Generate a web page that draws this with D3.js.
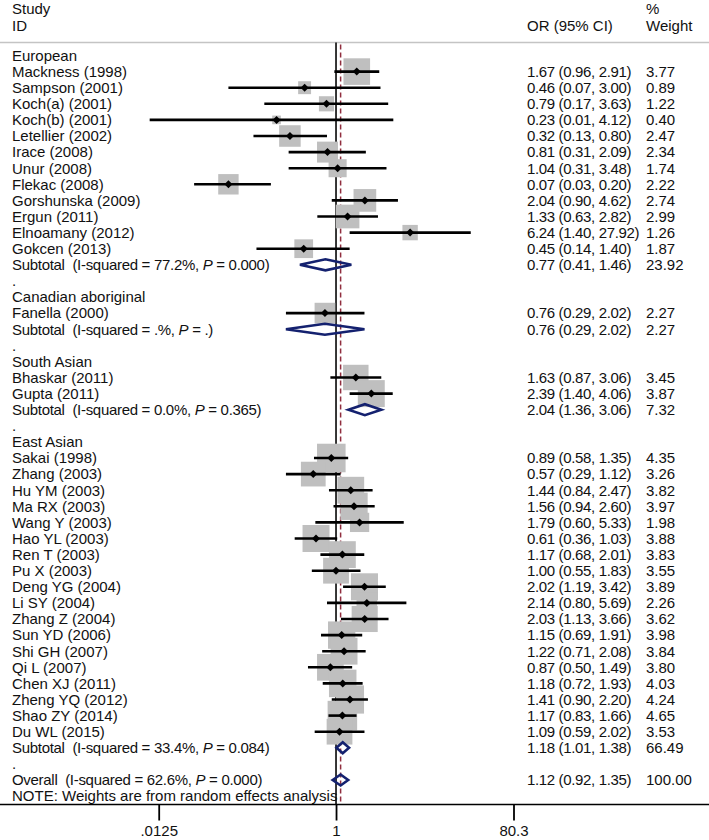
<!DOCTYPE html>
<html>
<head>
<meta charset="utf-8">
<script src="https://cdn.jsdelivr.net/npm/d3@7"></script>
<style>
  html, body { margin: 0; padding: 0; background: #fff; }
  svg { display: block; }
  text { font-family: "Liberation Sans", Arial, sans-serif; font-size: 15px; fill: #111; white-space: pre; }
</style>
</head>
<body>
<svg id="chart" width="709" height="840"></svg>
<script>
// ---------------- DATA ----------------
const groupNames = ["European", "Canadian aboriginal", "South Asian", "East Asian"];

const studyLabels = [
  "Mackness (1998)", "Sampson (2001)", "Koch(a) (2001)", "Koch(b) (2001)", "Letellier (2002)",
  "Irace (2008)", "Unur (2008)", "Flekac (2008)", "Gorshunska (2009)", "Ergun (2011)",
  "Elnoamany (2012)", "Gokcen (2013)",
  "Fanella (2000)",
  "Bhaskar (2011)", "Gupta (2011)",
  "Sakai (1998)", "Zhang (2003)", "Hu YM (2003)", "Ma RX (2003)", "Wang Y (2003)",
  "Hao YL (2003)", "Ren T (2003)", "Pu X (2003)", "Deng YG (2004)", "Li SY (2004)",
  "Zhang Z (2004)", "Sun YD (2006)", "Shi GH (2007)", "Qi L (2007)", "Chen XJ (2011)",
  "Zheng YQ (2012)", "Shao ZY (2014)", "Du WL (2015)"
];
const studyGroup = [
  0,0,0,0,0,0,0,0,0,0,0,0,
  1,
  2,2,
  3,3,3,3,3,3,3,3,3,3,3,3,3,3,3,3,3,3
];
const studyOR = [
  1.67, 0.46, 0.79, 0.23, 0.32, 0.81, 1.04, 0.07, 2.04, 1.33, 6.24, 0.45,
  0.76,
  1.63, 2.39,
  0.89, 0.57, 1.44, 1.56, 1.79, 0.61, 1.17, 1.00, 2.02, 2.14, 2.03, 1.15, 1.22, 0.87, 1.18, 1.41, 1.17, 1.09
];
const studyLower = [
  0.96, 0.07, 0.17, 0.01, 0.13, 0.31, 0.31, 0.03, 0.90, 0.63, 1.40, 0.14,
  0.29,
  0.87, 1.40,
  0.58, 0.29, 0.84, 0.94, 0.60, 0.36, 0.68, 0.55, 1.19, 0.80, 1.13, 0.69, 0.71, 0.50, 0.72, 0.90, 0.83, 0.59
];
const studyUpper = [
  2.91, 3.00, 3.63, 4.12, 0.80, 2.09, 3.48, 0.20, 4.62, 2.82, 27.92, 1.40,
  2.02,
  3.06, 4.06,
  1.35, 1.12, 2.47, 2.60, 5.33, 1.03, 2.01, 1.83, 3.42, 5.69, 3.66, 1.91, 2.08, 1.49, 1.93, 2.20, 1.66, 2.02
];
const studyWeight = [
  3.77, 0.89, 1.22, 0.40, 2.47, 2.34, 1.74, 2.22, 2.74, 2.99, 1.26, 1.87,
  2.27,
  3.45, 3.87,
  4.35, 3.26, 3.82, 3.97, 1.98, 3.88, 3.83, 3.55, 3.89, 2.26, 3.62, 3.98, 3.84, 3.80, 4.03, 4.24, 4.65, 3.53
];

// subtotals per group
const subI2 = ["77.2%", ".%", "0.0%", "33.4%"];
const subP = ["0.000", ".", "0.365", "0.084"];
const subOR = [0.77, 0.76, 2.04, 1.18];
const subLower = [0.41, 0.29, 1.36, 1.01];
const subUpper = [1.46, 2.02, 3.06, 1.38];
const subWeight = [23.92, 2.27, 7.32, 66.49];

// overall
const overallI2 = "62.6%";
const overallP = "0.000";
const overallOR = 1.12, overallLower = 0.92, overallUpper = 1.35, overallWeight = 100.00;

const tickValues = [0.0125, 1, 80.3];
const tickLabels = [".0125", "1", "80.3"];
const noteText = "NOTE: Weights are from random effects analysis";

// ---------------- LAYOUT ----------------
const svg = d3.select("#chart");
const W = 709, H = 840;

// build rows
const rows = [];
groupNames.forEach((g, gi) => {
  rows.push({type: "group", label: g});
  studyLabels.forEach((s, si) => {
    if (studyGroup[si] === gi) {
      rows.push({type: "study", label: s, or: studyOR[si], lo: studyLower[si], hi: studyUpper[si], w: studyWeight[si]});
    }
  });
  rows.push({type: "sub", label: "Subtotal", i2: subI2[gi], p: subP[gi], or: subOR[gi], lo: subLower[gi], hi: subUpper[gi], w: subWeight[gi]});
  rows.push({type: "dot", label: "."});
});
rows.push({type: "overall", label: "Overall", i2: overallI2, p: overallP, or: overallOR, lo: overallLower, hi: overallUpper, w: overallWeight});
rows.push({type: "note", label: noteText});

const y = d3.scaleLinear().domain([0, rows.length - 1]).range([55.5, 55.5 + (rows.length - 1) * 16.1]);
const x = d3.scaleLog().domain([0.0125, 80.3]).range([158.7, 513.5]);
const box = d3.scaleSqrt().domain([0, d3.max(studyWeight)]).range([0, 13.7 * Math.sqrt(d3.max(studyWeight))]);
const f2 = d3.format(".2f");

const headerLineY = 42.5;
const axisY = 804.5;
const baseOff = 5.3;
const labelX = 12, ciX = 527, wX = 646;

// header
svg.append("text").attr("x", labelX).attr("y", 13.8).text("Study");
svg.append("text").attr("x", labelX).attr("y", 30.5).text("ID");
svg.append("text").attr("x", ciX).attr("y", 30.5).text("OR (95% CI)");
svg.append("text").attr("x", wX).attr("y", 13.8).text("%");
svg.append("text").attr("x", wX).attr("y", 30.5).text("Weight");
svg.append("line").attr("x1", 0).attr("x2", W).attr("y1", headerLineY).attr("y2", headerLineY)
  .attr("stroke", "#c4c4c4").attr("stroke-width", 1.5);

// reference lines
svg.append("line").attr("x1", x(1)).attr("x2", x(1)).attr("y1", headerLineY).attr("y2", axisY)
  .attr("stroke", "#222").attr("stroke-width", 1.8);
svg.append("line").attr("x1", x(overallOR)).attr("x2", x(overallOR)).attr("y1", headerLineY + 2).attr("y2", axisY)
  .attr("stroke", "#902d3e").attr("stroke-width", 1.5).attr("stroke-dasharray", "5,3");

const idx = rows.map((r, i) => i);

// boxes
const studyRows = idx.filter(i => rows[i].type === "study");
svg.append("g").selectAll("rect").data(studyRows).join("rect")
  .attr("x", i => x(rows[i].or) - box(rows[i].w) / 2)
  .attr("y", i => y(i) - box(rows[i].w) / 2)
  .attr("width", i => box(rows[i].w))
  .attr("height", i => box(rows[i].w))
  .attr("fill", "#bfbfbf");

// CI lines
svg.append("g").selectAll("line").data(studyRows).join("line")
  .attr("x1", i => x(rows[i].lo)).attr("x2", i => x(rows[i].hi))
  .attr("y1", i => y(i)).attr("y2", i => y(i))
  .attr("stroke", "#000").attr("stroke-width", 2.6);

// point markers
const dm = 4;
svg.append("g").selectAll("path").data(studyRows).join("path")
  .attr("d", i => {
    const cx = x(rows[i].or), cy = y(i);
    return `M${cx - dm},${cy}L${cx},${cy - dm}L${cx + dm},${cy}L${cx},${cy + dm}Z`;
  })
  .attr("fill", "#000");

// pooled diamonds
const poolRows = idx.filter(i => rows[i].type === "sub" || rows[i].type === "overall");
const dh = 5.5;
svg.append("g").selectAll("path").data(poolRows).join("path")
  .attr("d", i => {
    const r = rows[i], cy = y(i);
    return `M${x(r.lo)},${cy}L${x(r.or)},${cy - dh}L${x(r.hi)},${cy}L${x(r.or)},${cy + dh}Z`;
  })
  .attr("fill", "none").attr("stroke", "#14216f").attr("stroke-width", 2.6).attr("stroke-linejoin", "miter");

// left labels
const lab = svg.append("g");
rows.forEach((r, i) => {
  const t = lab.append("text").attr("x", labelX).attr("y", y(i) + baseOff);
  if (r.type === "sub" || r.type === "overall") {
    t.attr("letter-spacing", -0.3);
    t.append("tspan").text(r.label + "  (I-squared = " + r.i2 + ", ");
    t.append("tspan").attr("font-style", "italic").text("P");
    t.append("tspan").text(" = " + r.p + ")");
  } else if (r.type === "dot") {
    t.text(".");
  } else {
    t.text(r.label);
  }
});

// right columns
const statRows = idx.filter(i => ["study", "sub", "overall"].includes(rows[i].type));
svg.append("g").selectAll("text").data(statRows).join("text")
  .attr("x", ciX).attr("y", i => y(i) + baseOff)
  .attr("letter-spacing", -0.35)
  .text(i => `${f2(rows[i].or)} (${f2(rows[i].lo)}, ${f2(rows[i].hi)})`);
svg.append("g").selectAll("text").data(statRows).join("text")
  .attr("x", wX).attr("y", i => y(i) + baseOff)
  .text(i => f2(rows[i].w));

// axis
svg.append("line").attr("x1", 0).attr("x2", W).attr("y1", axisY).attr("y2", axisY)
  .attr("stroke", "#000").attr("stroke-width", 1.5);
const ax = svg.append("g").attr("transform", `translate(0,${axisY})`)
  .call(d3.axisBottom(x).tickValues(tickValues).tickFormat((d, i) => tickLabels[i]).tickSize(16).tickPadding(5));
ax.select(".domain").remove();
ax.selectAll(".tick line").attr("stroke", "#000").attr("stroke-width", 1.8);
ax.selectAll(".tick text").attr("font-size", 15).attr("font-family", "Liberation Sans, Arial, sans-serif").attr("fill", "#111");
</script>
</body>
</html>
